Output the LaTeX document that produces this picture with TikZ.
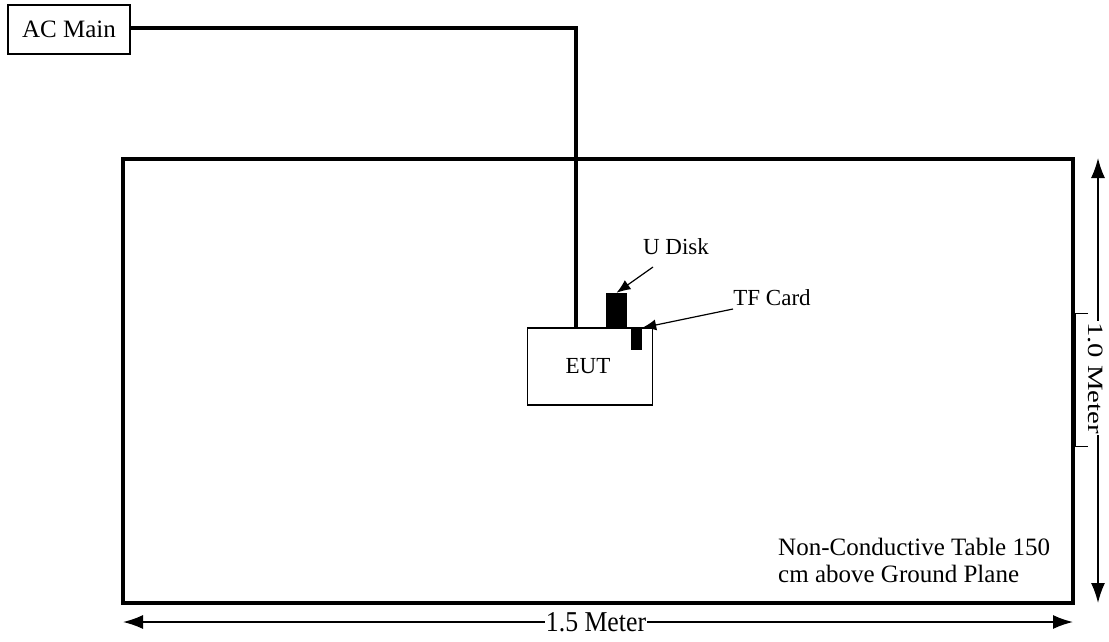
\documentclass[tikz,border=0pt]{standalone}
\usepackage{fontspec}
\setmainfont{Liberation Serif}
\usetikzlibrary{arrows.meta}
\begin{document}
\begin{tikzpicture}[x=1pt,y=-1pt,
  lbl/.style={font=\fontsize{23}{27}\selectfont, inner sep=0pt},
  biglbl/.style={font=\fontsize{25}{27}\selectfont, inner sep=0pt},
  box/.style={draw, line width=1.5pt, inner sep=0pt},
  thick/.style={line width=4pt},
  cable/.style={line width=3.4pt},
  dim/.style={line width=1.6pt, {Latex[length=20pt,width=14pt]}-{Latex[length=20pt,width=14pt]}},
  pointer/.style={line width=1.2pt, -{Latex[length=14pt,width=11pt]}},
  blk/.style={fill=black, draw=none}]
\useasboundingbox (0,0) rectangle (1109,641);
% table
\draw[thick] (123,159) rectangle (1073,603);
% AC main
\node[box, minimum width=122pt, minimum height=49pt, biglbl] (ac) at (69,29.5) {AC Main};
% EUT
\node[box, minimum width=125pt, minimum height=77pt] (eut) at (590,366.5) {};
\node[lbl] (eutl) at (588,366) {EUT};
\coordinate (bend) at (576,28);
\coordinate (eutin) at (576,328);
\draw[cable] (ac.east |- bend) -- (bend) -- (eutin);
% devices
\node[blk, minimum width=21pt, minimum height=35pt, inner sep=0pt] (udisk) at (616.5,310.5) {};
\node[blk, minimum width=11pt, minimum height=22pt, inner sep=0pt] (tf) at (636.5,339) {};
% labels
\node[lbl] (udl) at (676,247) {U Disk};
\node[lbl] (tfl) at (772,298) {TF Card};
\coordinate (uds) at (653,267);
\coordinate (tfs) at (733,309);
\draw[pointer] (uds) -- (udisk.north);
\draw[pointer] (tfs) -- (tf.north east);
% table text
\node[biglbl, anchor=north west, align=left] (tbl) at (778,538) {Non-Conductive Table 150\\cm above Ground Plane};
% dimensions
\coordinate (ht) at (1098,158);
\coordinate (hb) at (1098,603);
\draw[dim] (ht) -- (hb);
\draw[line width=1pt] (1088,313) -- (1075,313) -- (1075,446) -- (1088,446);
\node[lbl, fill=white, rotate=-90, inner xsep=1pt, inner ysep=1pt] (hl) at (1096,378) {\scalebox{1.25}[0.95]{1.0 Meter}};
\coordinate (wl) at (123,622);
\coordinate (wr) at (1073,622);
\draw[dim] (wl) -- (wr);
\node[lbl, fill=white, inner xsep=1pt, inner ysep=1pt] (wlab) at (596,622) {\scalebox{1.12}[1.25]{1.5 Meter}};
\end{tikzpicture}
\end{document}
